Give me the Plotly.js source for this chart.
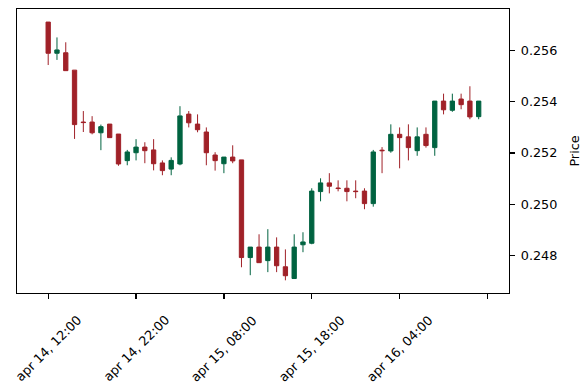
<!DOCTYPE html>
<html>
<head>
<meta charset="utf-8">
<script src="https://cdn.plot.ly/plotly-3.0.1.min.js"></script>
<style>html,body{margin:0;padding:0;background:#fff;}#chart{width:588px;height:389px;}</style>
</head>
<body>
<div id="chart"></div>
<script>
// hourly candles starting apr 14, 12:00
var idx = [];
for (var i = 0; i < 50; i++) idx.push(i);
var openP = [0.25712, 0.2559, 0.25592, 0.25524, 0.25321, 0.25321, 0.25279, 0.25313, 0.25274, 0.2517,
  0.25201, 0.25223, 0.25212, 0.25161, 0.25137, 0.25157, 0.25352, 0.25313, 0.25282, 0.25192,
  0.25158, 0.25184, 0.25173, 0.24791, 0.24832, 0.24779, 0.24832, 0.24755, 0.24709, 0.24841,
  0.24847, 0.25049, 0.25083, 0.25063, 0.25062, 0.25051, 0.25051, 0.25002, 0.25211, 0.25208,
  0.25273, 0.25263, 0.25209, 0.25273, 0.25221, 0.25403, 0.25367, 0.25411, 0.25403, 0.25342];
var highP = [0.25712, 0.25652, 0.25633, 0.25524, 0.25364, 0.25344, 0.25311, 0.25313, 0.25274, 0.25212,
  0.25254, 0.25242, 0.25254, 0.25171, 0.25183, 0.25383, 0.25364, 0.25351, 0.253, 0.25203,
  0.25184, 0.2523, 0.25173, 0.24832, 0.24882, 0.24902, 0.2487, 0.24823, 0.24882, 0.2489,
  0.25062, 0.25101, 0.25121, 0.25093, 0.25093, 0.25093, 0.25062, 0.25212, 0.25223, 0.25312,
  0.253, 0.25312, 0.253, 0.253, 0.25403, 0.25432, 0.25432, 0.25432, 0.25461, 0.25403];
var lowP = [0.25544, 0.25564, 0.25522, 0.25255, 0.25282, 0.25273, 0.25211, 0.2526, 0.2515, 0.25152,
  0.25171, 0.2516, 0.25132, 0.25113, 0.25113, 0.25152, 0.253, 0.25281, 0.25152, 0.25131,
  0.25121, 0.2516, 0.24753, 0.24722, 0.24771, 0.24734, 0.24734, 0.24702, 0.24709, 0.24812,
  0.24843, 0.25011, 0.25042, 0.2505, 0.25011, 0.25023, 0.2498, 0.2499, 0.25121, 0.25201,
  0.2514, 0.25171, 0.25189, 0.25221, 0.25189, 0.25351, 0.25361, 0.25371, 0.25332, 0.25332];
var closeP = [0.2559, 0.25603, 0.25522, 0.25311, 0.25319, 0.25279, 0.25303, 0.2526, 0.25157, 0.25204,
  0.25223, 0.25209, 0.25158, 0.25131, 0.25171, 0.25345, 0.25318, 0.25291, 0.25201, 0.2517,
  0.25184, 0.25169, 0.24791, 0.24832, 0.24771, 0.24832, 0.24759, 0.2472, 0.24832, 0.24852,
  0.25051, 0.25083, 0.2507, 0.25061, 0.25049, 0.25049, 0.25002, 0.25204, 0.25209, 0.25273,
  0.2526, 0.25221, 0.25263, 0.25229, 0.25403, 0.25369, 0.25403, 0.25389, 0.25341, 0.25403];
var tickPos = [0, 10, 20, 30, 40, 50];
var tickLabels = ['apr 14, 12:00', 'apr 14, 22:00', 'apr 15, 08:00', 'apr 15, 18:00', 'apr 16, 04:00', ''];
var yTicks = [0.248, 0.250, 0.252, 0.254, 0.256];

var upColor = '#006340', downColor = '#A02128';
var font = {family: 'DejaVu Sans', size: 12.8, color: '#000'};

// x tick labels centred on their ticks, rotated 45 degrees (matplotlib style)
var annos = [];
for (var k = 0; k < tickPos.length; k++) {
  if (!tickLabels[k]) continue;
  annos.push({
    x: tickPos[k], xref: 'x', y: -0.194, yref: 'paper',
    text: tickLabels[k], textangle: -45, showarrow: false,
    xanchor: 'center', yanchor: 'middle', font: font
  });
}

Plotly.newPlot('chart', [{
  type: 'candlestick',
  x: idx, open: openP, high: highP, low: lowP, close: closeP,
  increasing: {line: {color: upColor, width: 1}, fillcolor: upColor},
  decreasing: {line: {color: downColor, width: 1}, fillcolor: downColor},
  whiskerwidth: 0,
  hoverinfo: 'skip'
}], {
  width: 588, height: 389,
  margin: {l: 17, r: 78.5, t: 9, b: 96, pad: 0},
  paper_bgcolor: '#fff', plot_bgcolor: '#fff',
  showlegend: false,
  font: font,
  boxgap: 0.3,
  annotations: annos,
  xaxis: {
    range: [-3.55, 52.45], rangeslider: {visible: false},
    tickvals: tickPos, ticktext: tickLabels, showticklabels: false,
    ticks: 'outside', ticklen: 5, tickwidth: 1.2, tickcolor: '#000',
    showgrid: false, zeroline: false,
    showline: true, mirror: true, linecolor: '#000', linewidth: 1.2,
    automargin: false
  },
  yaxis: {
    side: 'right', range: [0.246524, 0.257631],
    tickvals: yTicks, tickformat: '.3f',
    ticks: 'outside', ticklen: 5, tickwidth: 1.2, tickcolor: '#000',
    ticklabelstandoff: 3,
    showgrid: false, zeroline: false,
    showline: true, mirror: true, linecolor: '#000', linewidth: 1.2,
    tickfont: font, automargin: false,
    title: {text: 'Price', font: font, standoff: 13}
  }
}, {staticPlot: true, displayModeBar: false});
</script>
</body>
</html>
